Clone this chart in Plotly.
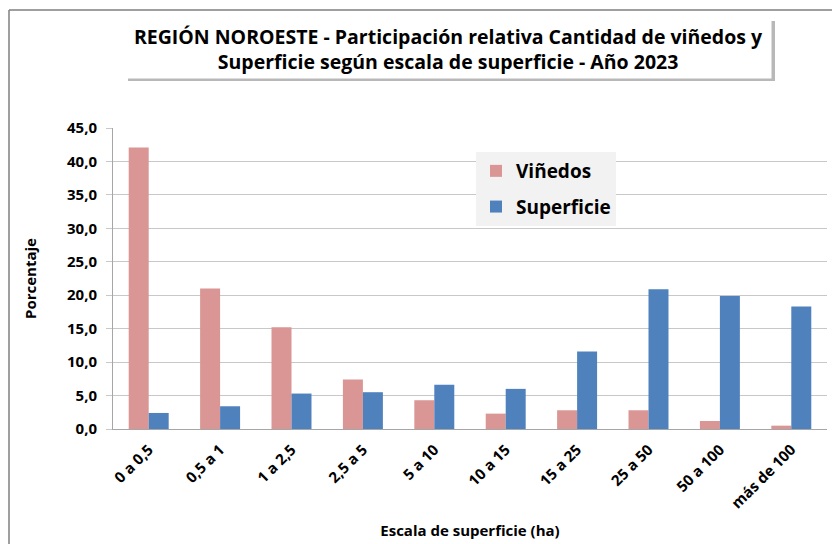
import plotly.graph_objects as go

categories = ["0 a 0,5", "0,5 a 1", "1 a 2,5", "2,5 a 5", "5 a 10", "10 a 15",
              "15 a 25", "25 a 50", "50 a 100", "más de 100"]
vinedos = [42.1, 21.0, 15.2, 7.4, 4.3, 2.3, 2.8, 2.8, 1.2, 0.5]
superficie = [2.4, 3.4, 5.3, 5.5, 6.6, 6.0, 11.6, 20.9, 19.9, 18.3]
y_ticks = [0, 5, 10, 15, 20, 25, 30, 35, 40, 45]
y_tick_labels = ["0,0", "5,0", "10,0", "15,0", "20,0", "25,0", "30,0", "35,0", "40,0", "45,0"]

# page body has an 8px default margin; figure is sized/offset to fit the 840x544 window
OFF = 8
W, H = 840 - OFF, 544 - OFF
# plot area in window pixels: x 113..827, y 128..429
L, R, T, B = 113 - OFF, 840 - 827, 128 - OFF, 544 - 429
pw, ph = W - L - R, H - T - B


def px(x):
    return (x - OFF - L) / pw


def py(y):
    return (H - B - (y - OFF)) / ph


FONT = "Open Sans"

fig = go.Figure()
fig.add_trace(go.Bar(x=categories, y=vinedos, name="Viñedos", legendgroup="v",
                     marker=dict(color="#D99694", line=dict(width=0))))
fig.add_trace(go.Bar(x=categories, y=superficie, name="Superficie", legendgroup="s",
                     marker=dict(color="#4F81BD", line=dict(width=0))))

fig.update_layout(
    width=W, height=H,
    margin=dict(l=L, r=R, t=T, b=B, autoexpand=False),
    paper_bgcolor="white", plot_bgcolor="white",
    barmode="group", bargap=0.44, bargroupgap=0,
    font=dict(family=FONT, color="black"),
    showlegend=True,
    legend=dict(x=px(476), y=py(152), xanchor="left", yanchor="top",
                bgcolor="#F2F2F2", font=dict(size=19, family=FONT, weight="bold"),
                itemsizing="constant", tracegroupgap=8),
    xaxis=dict(showgrid=False, showline=True, linecolor="#A6A6A6", linewidth=1,
               tickangle=-45, tickfont=dict(size=15, family=FONT, weight="bold"),
               ticks="", automargin=False, ticklabelstandoff=5,
               title=dict(text="Escala de superficie (ha)",
                          font=dict(size=15, family=FONT, weight="bold"),
                          standoff=14)),
    yaxis=dict(range=[0, 45], tickvals=y_ticks, ticktext=y_tick_labels,
               showgrid=True, gridcolor="#C8C8C8", gridwidth=1.3,
               showline=True, linecolor="#A6A6A6", linewidth=1,
               ticks="outside", ticklen=6, tickcolor="#C8C8C8",
               ticklabelstandoff=6, automargin=False,
               zeroline=False,
               tickfont=dict(size=15, family=FONT, weight="bold"),
               title=dict(text="Porcentaje", font=dict(size=15, family=FONT, weight="bold"),
                          standoff=26)),
)

# outer chart border (top and left edges visible)
fig.add_shape(type="line", xref="paper", yref="paper",
              x0=px(9), x1=px(840), y0=py(10), y1=py(10),
              line=dict(color="#7F7F7F", width=1.5))
fig.add_shape(type="line", xref="paper", yref="paper",
              x0=px(9), x1=px(9), y0=py(10), y1=py(544),
              line=dict(color="#7F7F7F", width=1.5))

# title box shadow
fig.add_shape(type="rect", xref="paper", yref="paper",
              x0=px(128), x1=px(775), y0=py(21), y1=py(81),
              fillcolor="rgba(0,0,0,0.28)", line=dict(width=0), layer="above")

fig.add_annotation(
    xref="paper", yref="paper", x=px(448.5), y=py(48.5),
    xanchor="center", yanchor="middle", showarrow=False,
    text="REGIÓN NOROESTE - Participación relativa Cantidad de viñedos y<br>Superficie según escala de superficie - Año 2023",
    font=dict(size=19.5, family=FONT, weight="bold", color="black"),
    bgcolor="white", width=645, height=58, borderpad=0, align="center",
)

fig.write_html("out.html")
